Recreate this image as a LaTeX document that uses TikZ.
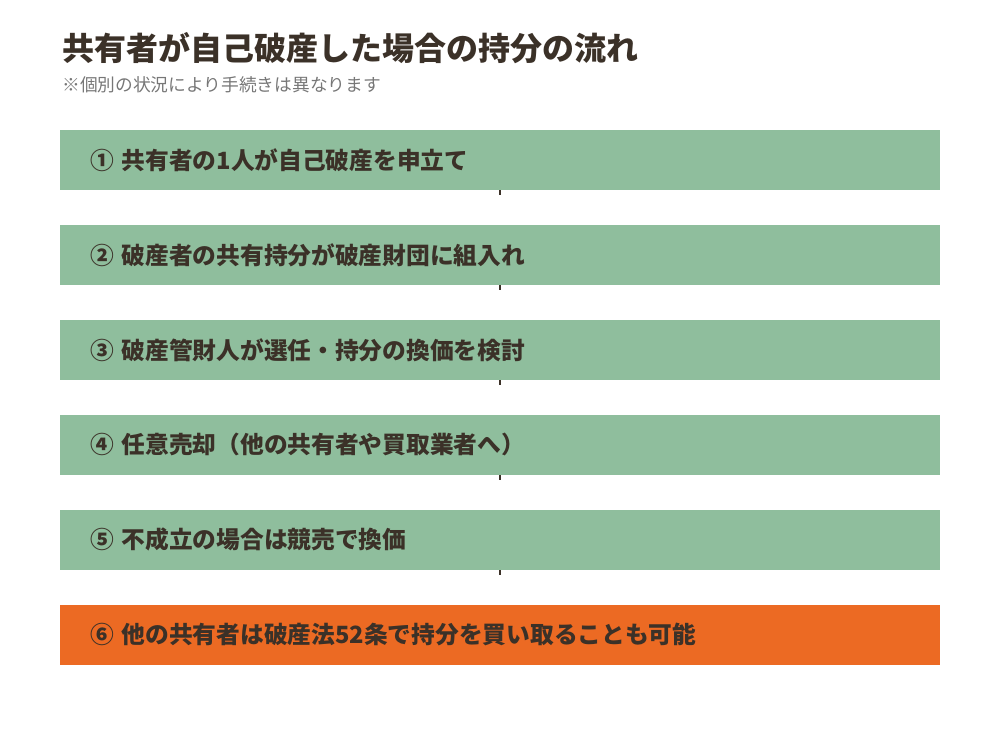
\documentclass[tikz,border=0pt]{standalone}
\usepackage{fontspec}
\setmainfont{Noto Sans CJK JP}
\usetikzlibrary{positioning}
\definecolor{stepgreen}{HTML}{8FBE9D}
\definecolor{steporange}{HTML}{EC6A23}
\definecolor{inkbrown}{HTML}{3B3128}
\definecolor{notegray}{HTML}{777777}

\begin{document}
\begin{tikzpicture}[node distance=25.8pt,
  stepbox/.style={fill=stepgreen, minimum width=660pt, minimum height=45pt, text width=615pt,
    inner xsep=22.5pt, inner ysep=0pt, align=left, font=\bfseries\fontsize{17.8}{20}\selectfont, text=inkbrown},
  tick/.style={draw=inkbrown, line width=2pt}]
 % Frame
	\useasboundingbox (0,0) rectangle (750pt,-562.5pt);
 % Heading
	\node[anchor=west, inner sep=0pt, text=inkbrown, font=\bfseries\fontsize{24}{28}\selectfont] (title) at (46.5pt,-36pt) {共有者が自己破産した場合の持分の流れ};
	\node[anchor=west, inner sep=0pt, text=notegray, font=\fontsize{13.3}{15}\selectfont] (note) at (46.5pt,-63.75pt) {※個別の状況により手続きは異なります};
 % Steps
	\node[stepbox] (s1) at (375pt,-120pt) {① 共有者の1人が自己破産を申立て};
	\node[stepbox, below=of s1] (s2) {② 破産者の共有持分が破産財団に組入れ};
	\node[stepbox, below=of s2] (s3) {③ 破産管財人が選任・持分の換価を検討};
	\node[stepbox, below=of s3] (s4) {④ 任意売却（他の共有者や買取業者へ）};
	\node[stepbox, below=of s4] (s5) {⑤ 不成立の場合は競売で換価};
	\node[stepbox, fill=steporange, below=of s5] (s6) {⑥ 他の共有者は破産法52条で持分を買い取ることも可能};
 % Connectors
	\foreach \a in {1,...,5}{
		\draw[tick] (s\a.south) -- ++(0,-3.75pt);
	}
\end{tikzpicture}
\end{document}
